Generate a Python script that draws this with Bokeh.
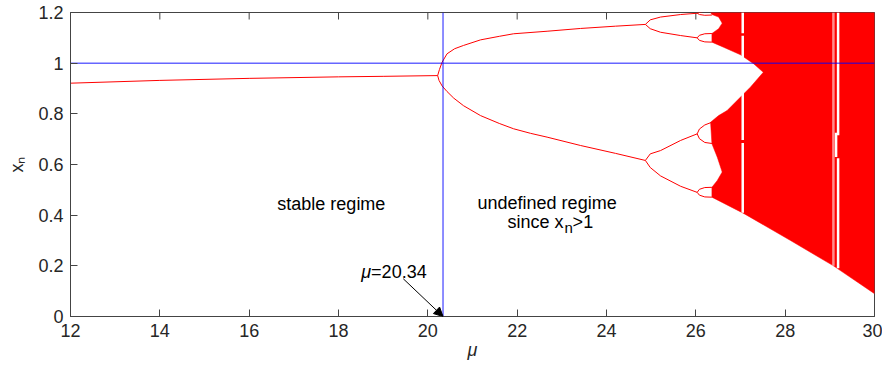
from bokeh.plotting import figure
from bokeh.models import Label, Arrow, NormalHead, FixedTicker
from bokeh.embed import file_html
from bokeh.resources import INLINE

# ---- axes -----------------------------------------------------------------
x_ticks = [12, 14, 16, 18, 20, 22, 24, 26, 28, 30]
x_tick_labels = ["12", "14", "16", "18", "20", "22", "24", "26", "28", "30"]
y_ticks = [0, 0.2, 0.4, 0.6, 0.8, 1.0, 1.2]
y_tick_labels = ["0", "0.2", "0.4", "0.6", "0.8", "1", "1.2"]
x_min, x_max = 12, 30
y_min, y_max = 0, 1.2

# ---- reference lines ------------------------------------------------------
mu_critical = 20.34          # first parameter value where x_n exceeds 1
x_limit = 1.0

# ---- period-1 branch ------------------------------------------------------
mu_p1 = [12.0, 14.0, 16.0, 18.0, 19.0, 20.22]
x_p1 = [0.921, 0.932, 0.940, 0.946, 0.948, 0.951]

# ---- period-2 branches ----------------------------------------------------
mu_p2_hi = [20.22, 20.26, 20.32, 20.43, 20.60, 20.80, 21.18, 21.60, 21.92,
            22.67, 23.42, 24.20, 24.87]
x_p2_hi = [0.951, 0.975, 1.004, 1.037, 1.057, 1.070, 1.092, 1.106, 1.116,
           1.126, 1.137, 1.146, 1.153]
mu_p2_lo = [20.22, 20.25, 20.32, 20.43, 20.58, 20.80, 21.18, 21.60, 21.92,
            22.30, 22.67, 23.42, 24.20, 24.87]
x_p2_lo = [0.951, 0.932, 0.910, 0.888, 0.862, 0.832, 0.793, 0.762, 0.741,
           0.723, 0.708, 0.675, 0.644, 0.616]

# ---- period-4 branches ----------------------------------------------------
mu_p4 = [24.87, 24.98, 25.21, 25.66, 26.03]
x_p4_a = [1.153, 1.171, 1.182, 1.192, 1.197]
x_p4_b = [1.153, 1.136, 1.122, 1.109, 1.100]
x_p4_c = [0.616, 0.642, 0.655, 0.695, 0.721]
x_p4_d = [0.616, 0.588, 0.555, 0.514, 0.490]

# ---- period-8 branches ----------------------------------------------------
mu_p8 = [26.03, 26.08, 26.20, 26.36]
x_p8 = [
    [1.197, 1.200, 1.205, 1.210],
    [1.197, 1.192, 1.189, 1.190],
    [1.100, 1.110, 1.116, 1.117],
    [1.100, 1.090, 1.084, 1.083],
    [0.721, 0.740, 0.756, 0.767],
    [0.721, 0.702, 0.687, 0.683],
    [0.490, 0.502, 0.509, 0.510],
    [0.490, 0.479, 0.472, 0.471],
]

# ---- chaotic band outline -------------------------------------------------
mu_band = [26.33, 30.0, 30.0, 29.08, 28.12, 27.07, 26.36, 26.36, 26.48, 26.59,
           26.48, 26.36, 26.33, 26.51, 26.70, 27.00, 27.22, 27.51, 27.30, 27.00,
           26.62, 26.36, 26.36, 26.51, 26.59, 26.51, 26.36, 26.33]
x_band = [1.2, 1.2, 0.09, 0.20, 0.30, 0.407, 0.471, 0.510, 0.537, 0.570,
          0.629, 0.682, 0.767, 0.793, 0.813, 0.866, 0.905, 0.964, 0.997, 1.033,
          1.063, 1.083, 1.117, 1.136, 1.158, 1.182, 1.192, 1.2]

# ---- periodic windows inside the chaotic band -----------------------------
win_mu = [27.05, 27.05, 27.05, 29.185, 29.14, 29.185]
win_top = [1.2, 1.108, 0.685, 1.2, 0.725, 0.625]
win_bot = [1.118, 0.697, 0.41, 0.715, 0.63, 0.19]
faint_mu = [29.08]
faint_top = [1.2]
faint_bot = [0.20]

FONT = "Liberation Sans"
AX = "#444444"
TXT = "#262626"
FS = "18px"

p = figure(width=882, height=366, x_range=(x_min, x_max), y_range=(y_min, y_max),
           output_backend="svg", toolbar_location=None,
           min_border_left=70, min_border_right=8,
           min_border_top=12, min_border_bottom=50)
p.grid.visible = False
p.outline_line_color = AX
p.background_fill_color = "white"
p.border_fill_color = "white"

def style_axis(ax, ticks, labels):
    ax.ticker = FixedTicker(ticks=ticks)
    ax.major_label_overrides = {t: s for t, s in zip(ticks, labels)}
    ax.major_tick_in = 7
    ax.major_tick_out = 0
    ax.minor_tick_in = 0
    ax.minor_tick_out = 0
    ax.axis_line_color = AX
    ax.major_tick_line_color = AX
    ax.major_label_text_font = FONT
    ax.major_label_text_color = TXT
    ax.major_label_text_font_size = FS
    ax.major_label_standoff = 7
    ax.axis_label_text_font = FONT
    ax.axis_label_text_font_size = FS
    ax.axis_label_text_color = TXT
    ax.axis_label_text_font_style = "normal"

style_axis(p.xaxis[0], x_ticks, x_tick_labels)
style_axis(p.yaxis[0], y_ticks, y_tick_labels)
p.xaxis.axis_label = "\u03bc"
p.xaxis.axis_label_text_font_style = "italic"
p.xaxis.axis_label_standoff = 0
p.yaxis.axis_label = "x\u2099"
p.yaxis.axis_label_standoff = 8

# inward ticks along the top and right edges of the box
p.scatter(x_ticks, [y_max] * len(x_ticks), marker="dash", size=14, angle=1.5708,
          line_color=AX, line_width=1)
p.scatter([x_max] * len(y_ticks), y_ticks, marker="dash", size=14,
          line_color=AX, line_width=1)

RED = "#ff0000"

# bifurcation branches
p.line(mu_p1, x_p1, line_color=RED, line_width=1)
p.line(mu_p2_hi, x_p2_hi, line_color=RED, line_width=1)
p.line(mu_p2_lo, x_p2_lo, line_color=RED, line_width=1)
p.multi_line([mu_p4] * 4, [x_p4_a, x_p4_b, x_p4_c, x_p4_d], line_color=RED, line_width=1)
p.multi_line([mu_p8] * len(x_p8), x_p8, line_color=RED, line_width=1)

# chaotic band
p.patch(mu_band, x_band, fill_color=RED, line_color=RED, line_width=0.5)

# periodic windows
p.segment(win_mu, win_top, win_mu, win_bot, line_color="white", line_width=2.5)
p.segment(faint_mu, faint_top, faint_mu, faint_bot, line_color="white",
          line_width=2.5, line_alpha=0.55)

# x_n = 1 and mu = 20.34 guides
p.line([x_min, x_max], [x_limit, x_limit], line_color="#0000ff", line_alpha=0.6, line_width=1.5)
p.line([mu_critical, mu_critical], [y_min, y_max], line_color="#0000ff", line_alpha=0.6, line_width=1.5)

def add_text(text, x, y, align="center", baseline="middle", size=FS,
             style="normal", dx=0, dy=0):
    p.add_layout(Label(x=x, y=y, text=text, text_align=align, text_baseline=baseline,
                       text_font=FONT, text_font_size=size, text_font_style=style,
                       text_color="black", x_offset=dx, y_offset=dy))

add_text("stable regime", 17.84, 0.446)
add_text("undefined regime", 22.67, 0.45)
add_text("since x", 23.04, 0.372, align="right", baseline="alphabetic")
add_text("n", 23.04, 0.372, align="left", baseline="alphabetic", size="15px", dx=1, dy=-5)
add_text(">1", 23.04, 0.372, align="left", baseline="alphabetic", dx=9)

add_text("\u03bc", 18.73, 0.175, align="right", baseline="alphabetic", style="italic")
add_text("=20.34", 18.73, 0.175, align="left", baseline="alphabetic")
p.add_layout(Arrow(end=NormalHead(size=9, fill_color="black", line_color="black"),
                   x_start=19.45, y_start=0.149, x_end=mu_critical, y_end=0.0,
                   line_color="black", line_width=1))

open("out.html", "w").write(file_html(p, INLINE))
